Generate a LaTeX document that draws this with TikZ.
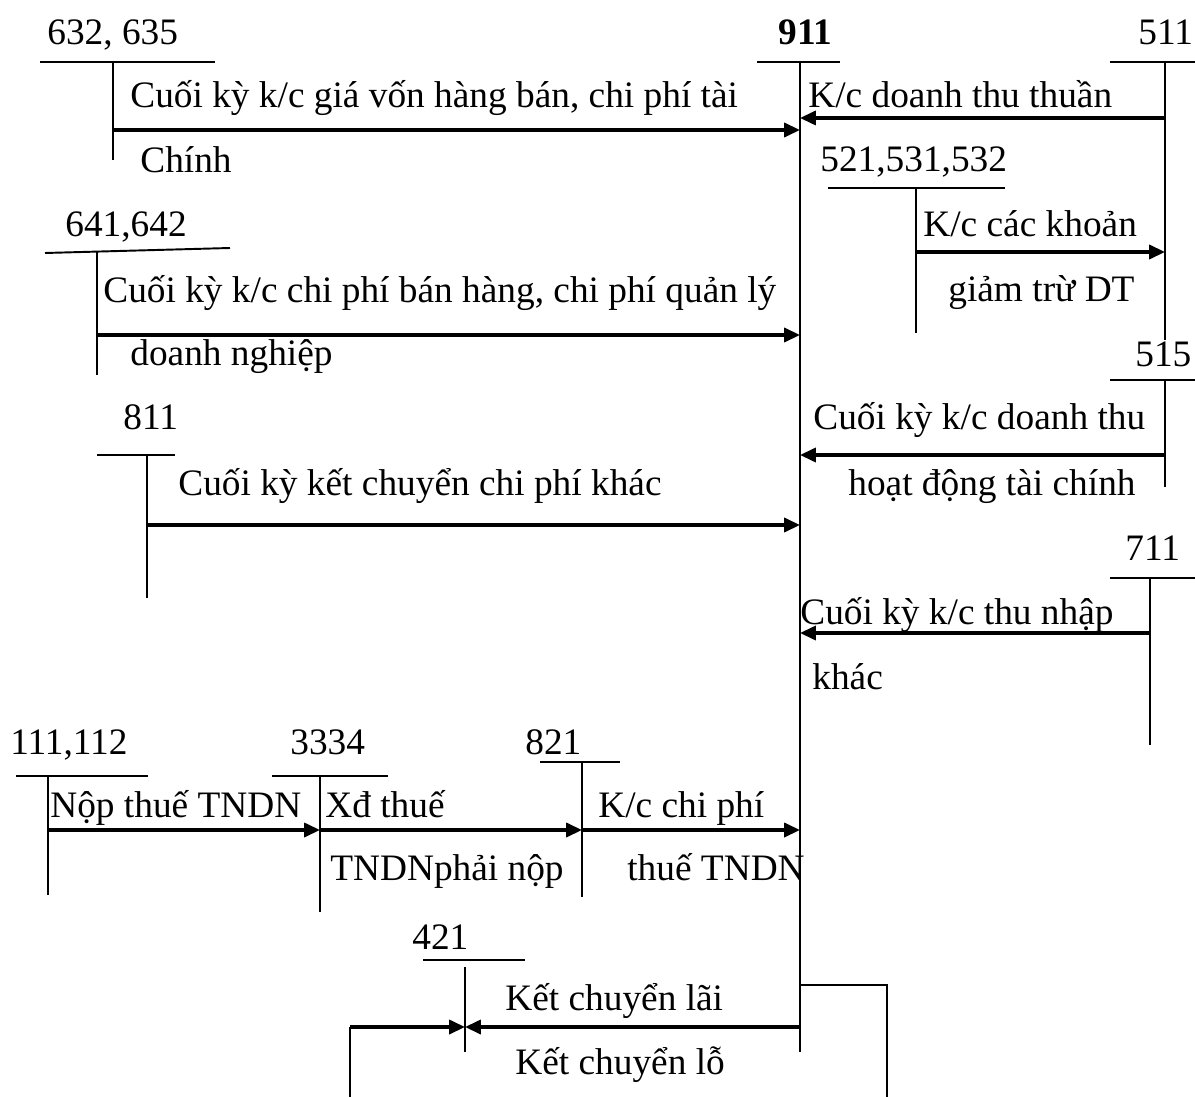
\documentclass[tikz,border=0pt]{standalone}
\usepackage{fontspec}
\setmainfont{Liberation Serif}
\usetikzlibrary{arrows.meta}
\tikzset{
  tbar/.style={line width=1.1pt},
  arrow/.style={-{Triangle[length=9pt,width=8pt]},line width=1.8pt},
  lbl/.style={anchor=base west,inner sep=0pt},
  acc/.style={anchor=base west,inner sep=0pt}
}

\begin{document}
\fontsize{21.25}{24}\selectfont
\begin{tikzpicture}[
  x=0.02cm,
  y=-0.02cm
]
\useasboundingbox (0,0) rectangle (1195,1097);

% T-accounts
\coordinate (a911) at (800,62);
\node[acc,font=\bfseries] (n911) at (778,45) {911};
\draw[tbar] (757,62) -- (840,62) (a911) -- (800,1052);

\coordinate (a632) at (113,62);
\node[acc] (n632) at (47,45) {632, 635};
\draw[tbar] (40,62) -- (215,62) (a632) -- (113,160);

\coordinate (a511) at (1165,62);
\node[acc] (n511) at (1138,45) {511};
\draw[tbar] (1110,62) -- (1195,62) (a511) -- (1165,340);

\coordinate (a521) at (916,188);
\node[acc] (n521) at (820,172) {521,531,532};
\draw[tbar] (828,188) -- (1005,188) (a521) -- (916,333);

\coordinate (a641) at (97,251);
\node[acc] (n641) at (65,237) {641,642};
\draw[tbar] (45,253) -- (230,248) (a641) -- (97,375);

\coordinate (a515) at (1165,380);
\node[acc] (n515) at (1135,367) {515};
\draw[tbar] (1110,380) -- (1195,380) (a515) -- (1165,487);

\coordinate (a811) at (147,455);
\node[acc] (n811) at (123,430) {811};
\draw[tbar] (97,455) -- (175,455) (a811) -- (147,598);

\coordinate (a711) at (1150,578);
\node[acc] (n711) at (1125,560) {711};
\draw[tbar] (1110,578) -- (1195,578) (a711) -- (1150,745);

\coordinate (a111) at (48,776);
\node[acc] (n111) at (10,754) {111,112};
\draw[tbar] (16,776) -- (148,776) (a111) -- (48,895);

\coordinate (a3334) at (320,776);
\node[acc] (n3334) at (290,754) {3334};
\draw[tbar] (272,776) -- (388,776) (a3334) -- (320,912);

\coordinate (a821) at (582,762);
\node[acc] (n821) at (525,754) {821};
\draw[tbar] (540,762) -- (620,762) (a821) -- (582,897);

\coordinate (a421) at (465,967);
\node[acc] (n421) at (412,949) {421};
\draw[tbar] (423,960) -- (525,960) (a421) -- (465,1052);

% ket chuyen
\draw[arrow] (a632 |- 0,130) -- (a911 |- 0,130);
\node[lbl] (t1a) at (130,108) {Cuối kỳ k/c giá vốn hàng bán, chi phí tài};
\node[lbl] (t1b) at (140,173) {Chính};

\draw[arrow] (a511 |- 0,118) -- (a911 |- 0,118);
\node[lbl] (t2) at (808,108) {K/c doanh thu thuần};

\draw[arrow] (a521 |- 0,252) -- (a511 |- 0,252);
\node[lbl] (t3a) at (923,237) {K/c các khoản};
\node[lbl] (t3b) at (948,302) {giảm trừ DT};

\draw[arrow] (a641 |- 0,335) -- (a911 |- 0,335);
\node[lbl] (t4a) at (103,303) {Cuối kỳ k/c chi phí bán hàng, chi phí quản lý};
\node[lbl] (t4b) at (130,366) {doanh nghiệp};

\draw[arrow] (a515 |- 0,455) -- (a911 |- 0,455);
\node[lbl] (t5a) at (813,430) {Cuối kỳ k/c doanh thu};
\node[lbl] (t5b) at (848,495) {hoạt động tài chính};

\draw[arrow] (a811 |- 0,525) -- (a911 |- 0,525);
\node[lbl] (t6) at (178,495) {Cuối kỳ kết chuyển chi phí khác};

\draw[arrow] (a711 |- 0,633) -- (a911 |- 0,633);
\node[lbl] (t7a) at (800,624) {Cuối kỳ k/c thu nhập};
\node[lbl] (t7b) at (812,689) {khác};

\draw[arrow] (a111 |- 0,830) -- (a3334 |- 0,830);
\node[lbl] (t8) at (50,817) {Nộp thuế TNDN};
\draw[arrow] (a3334 |- 0,830) -- (a821 |- 0,830);
\node[lbl] (t9a) at (325,817) {Xđ thuế};
\node[lbl] (t9b) at (330,880) {TNDNphải nộp};
\draw[arrow] (a821 |- 0,830) -- (a911 |- 0,830);
\node[lbl] (t10a) at (598,817) {K/c chi phí};
\node[lbl] (t10b) at (627,880) {thuế TNDN};

% lai / lo
\draw[arrow] (a911 |- 0,1027) -- (a421 |- 0,1027);
\node[lbl] (t11) at (505,1010) {Kết chuyển lãi};
\draw[tbar] (a911 |- 0,985) -| (887,1097);
\draw[tbar] (350,1097) -- (350,1027);
\draw[arrow] (350,1027) -- (a421 |- 0,1027);
\node[lbl] (t12) at (515,1074) {Kết chuyển lỗ};

\end{tikzpicture}
\end{document}
